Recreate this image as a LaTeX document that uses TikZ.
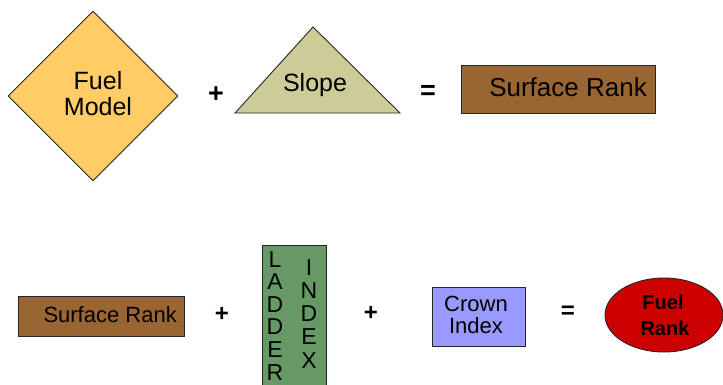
\documentclass[tikz,border=0pt]{standalone}
\usepackage{fontspec}
\setmainfont{Liberation Sans}
\usetikzlibrary{shapes.geometric}

\definecolor{fuelmodel}{HTML}{FFCC66}
\definecolor{slopefill}{HTML}{CCCC99}
\definecolor{surface}{HTML}{996633}
\definecolor{ladder}{HTML}{669966}
\definecolor{crown}{HTML}{9999FF}
\definecolor{fuelrank}{HTML}{CC0000}
\definecolor{edge}{HTML}{262626}

\tikzset{
  shapebox/.style={draw=edge, line width=0.9pt, inner sep=0pt},
  txt/.style={inner sep=0pt, anchor=base, text=black},
  bigtxt/.style={txt, font=\fontsize{25}{27}\selectfont},
  midtxt/.style={txt, font=\fontsize{22}{24}\selectfont},
  op/.style={inner sep=0pt, text=black, font=\fontsize{27}{29}\selectfont\bfseries},
  smallop/.style={inner sep=0pt, text=black, font=\fontsize{24}{26}\selectfont\bfseries},
  letter/.style={txt, font=\fontsize{23}{24}\selectfont},
  boldtxt/.style={txt, font=\fontsize{20}{22}\selectfont\bfseries},
}

\begin{document}
\begin{tikzpicture}[x=1pt, y=-1pt]
  \useasboundingbox (0,0) rectangle (723,384);

  % ---- first line: Fuel Model + Slope = Surface Rank
  \node[shapebox, diamond, fill=fuelmodel, minimum width=170pt, minimum height=170pt] (fm) at (93,96) {};
  \node[bigtxt] (fmA) at (98,89.5) {Fuel};
  \node[bigtxt] (fmB) at (98,115) {Model};

  \node[op] (plusA) at (216,95) {+};

  \coordinate (slL) at (235,113);
  \coordinate (slT) at (313,27);
  \coordinate (slR) at (400,113);
  \draw[shapebox, fill=slopefill, line join=miter] (slL) -- (slT) -- (slR) -- cycle;
  \node[bigtxt] (slope) at (315,91) {Slope};

  \node[op] (eqA) at (428,92) {=};

  \node[shapebox, rectangle, fill=surface, minimum width=194pt, minimum height=48pt] (srA) at (558,89) {};
  \node[txt, font=\fontsize{26}{28}\selectfont, anchor=base east] (srAt) at (647,96) {Surface Rank};

  % ---- second line: Surface Rank + Ladder Index + Crown Index = Fuel Rank
  \node[shapebox, rectangle, fill=surface, minimum width=166pt, minimum height=40pt] (srB) at (101,316) {};
  \node[midtxt, anchor=base east] (srBt) at (177,322.5) {Surface Rank};

  \node[smallop] (plusB) at (222,314) {+};

  \draw[shapebox, fill=ladder] (262,245) rectangle (326,392);
  \foreach \ch [count=\i] in {L,A,D,D,E,R}
    \node[letter] (lad\i) at (275,{267+22.6*(\i-1)}) {\ch};
  \foreach \ch [count=\i] in {I,N,D,E,X}
    \node[letter] (idx\i) at (309,{275+23.25*(\i-1)}) {\ch};

  \node[smallop] (plusC) at (371,313) {+};

  \node[shapebox, rectangle, fill=crown, minimum width=93pt, minimum height=59pt] (ci) at (478.5,316.5) {};
  \node[midtxt] (ciA) at (476,311) {Crown};
  \node[midtxt] (ciB) at (476,333.5) {Index};

  \node[smallop] (eqB) at (568,312) {=};

  \node[shapebox, ellipse, fill=fuelrank, minimum width=118pt, minimum height=74pt] (fr) at (664,315) {};
  \node[boldtxt] (frA) at (663,309) {Fuel};
  \node[boldtxt] (frB) at (665,335) {Rank};
\end{tikzpicture}
\end{document}
